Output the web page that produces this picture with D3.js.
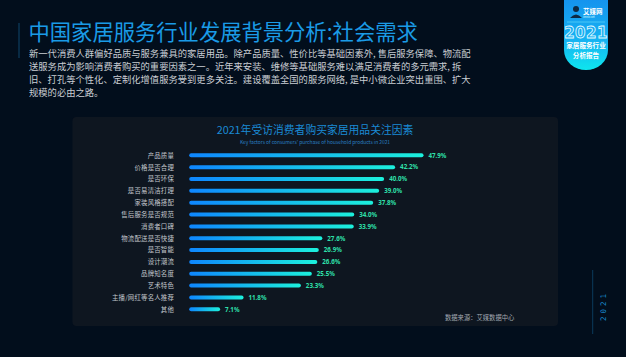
<!DOCTYPE html>
<html><head><meta charset="utf-8">
<script src="https://cdn.jsdelivr.net/npm/d3@7"></script>
<style>
html,body{margin:0;padding:0;background:#020e1c;}
svg{display:block;}
</style></head>
<body>
<svg id="c" width="626" height="357"></svg>
<script>
const categories = ["产品质量","价格是否合理","是否环保","是否易清洁打理","家装风格搭配","售后服务是否规范","消费者口碑","物流配送是否快捷","是否智能","设计潮流","品牌知名度","艺术特色","主播/网红等名人推荐","其他"];
const values = [47.9,42.2,40.0,39.0,37.8,34.0,33.9,27.6,26.9,26.6,25.5,23.3,11.8,7.1];
const valueLabels = ["47.9%","42.2%","40.0%","39.0%","37.8%","34.0%","33.9%","27.6%","26.9%","26.6%","25.5%","23.3%","11.8%","7.1%"];
const pageTitle = "中国家居服务行业发展背景分析:社会需求";
const paragraph = [
  "新一代消费人群偏好品质与服务兼具的家居用品。除产品质量、性价比等基础因素外, 售后服务保障、物流配",
  "送服务成为影响消费者购买的重要因素之一。近年来安装、维修等基础服务难以满足消费者的多元需求, 拆",
  "旧、打孔等个性化、定制化增值服务受到更多关注。建设覆盖全国的服务网络, 是中小微企业突出重围、扩大",
  "规模的必由之路。"
];
const chartTitle = "2021年受访消费者购买家居用品关注因素";
const chartSubtitle = "Key factors of consumers' purchase of household products in 2021";
const source = "数据来源：艾媒数据中心";

const FONT = "'Noto Sans CJK SC','Noto Sans',sans-serif";
const svg = d3.select("#c");
const defs = svg.append("defs");

// background
svg.append("rect").attr("width",626).attr("height",357).attr("fill","#020e1c");

// header
svg.append("line").attr("x1",19).attr("x2",19).attr("y1",23).attr("y2",58)
  .attr("stroke","#0b3452").attr("stroke-width",1.5);
svg.append("text").attr("x",28.5).attr("y",40).attr("font-family",FONT)
  .attr("font-size",21.3).attr("fill","#1a9be6").text(pageTitle);
svg.append("g").selectAll("text").data(paragraph).join("text")
  .attr("x",29).attr("y",(d,i)=>57 + i*12.9)
  .attr("font-family",FONT).attr("font-size",9.3).attr("fill","#c9cdd3")
  .text(d=>d);

// badge
const bg = defs.append("linearGradient").attr("id","badge").attr("x1",0).attr("y1",0).attr("x2",0).attr("y2",1);
bg.append("stop").attr("offset","0%").attr("stop-color","#1592ee");
bg.append("stop").attr("offset","60%").attr("stop-color","#16b4f2");
bg.append("stop").attr("offset","100%").attr("stop-color","#0ee6ee");
svg.append("path").attr("d","M564,-2 H608 V50 A22,20 0 0 1 564,50 Z").attr("fill","url(#badge)");
svg.append("circle").attr("cx",576).attr("cy",9).attr("r",3).attr("fill","#0d2a44");
svg.append("path").attr("d","M570,18 Q576,11 582,18 Z").attr("fill","#0d2a44");
svg.append("text").attr("x",583).attr("y",14).attr("font-family",FONT).attr("font-size",6.5)
  .attr("font-weight","bold").attr("fill","#fff").text("艾媒网");
svg.append("text").attr("x",583).attr("y",18).attr("font-family",FONT).attr("font-size",2)
  .attr("fill","#dff").text("iimedia.com");
svg.append("line").attr("x1",567).attr("x2",605).attr("y1",22).attr("y2",22).attr("stroke","#7fe8ff").attr("stroke-width",0.5);
svg.append("text").attr("x",586).attr("y",37.5).attr("text-anchor","middle").attr("font-family","'DejaVu Sans',sans-serif")
  .attr("font-size",15).attr("font-weight","bold").attr("fill","none").attr("stroke","#e6fbff").attr("stroke-width",0.8)
  .attr("letter-spacing",0.5).text("2021");
svg.append("text").attr("x",586).attr("y",48).attr("text-anchor","middle").attr("font-family",FONT)
  .attr("font-size",6.6).attr("font-weight","bold").attr("fill","#fff").text("家居服务行业");
svg.append("text").attr("x",586).attr("y",57.5).attr("text-anchor","middle").attr("font-family",FONT)
  .attr("font-size",6.6).attr("font-weight","bold").attr("fill","#fff").text("分析报告");

// bottom-right year
svg.append("line").attr("x1",592.7).attr("x2",592.7).attr("y1",270).attr("y2",334)
  .attr("stroke","#0b3a5c").attr("stroke-width",1);
svg.append("text").attr("transform","translate(606,306) rotate(-90)").attr("text-anchor","middle")
  .attr("font-family","'DejaVu Sans Mono',monospace").attr("font-size",7.5).attr("letter-spacing",3)
  .attr("fill","#1a8ed4").text("2021");

// panel
svg.append("rect").attr("x",72.5).attr("y",117).attr("width",485.5).attr("height",209).attr("rx",4)
  .attr("fill","#0e1620");

svg.append("text").attr("x",315).attr("y",134).attr("text-anchor","middle").attr("font-family",FONT)
  .attr("font-size",10.8).attr("fill","#1a8ad4").text(chartTitle);
svg.append("text").attr("x",315).attr("y",144).attr("text-anchor","middle").attr("font-family",FONT)
  .attr("font-size",4.9).attr("fill","#2a80c4").text(chartSubtitle);

// scales
const x = d3.scaleLinear().domain([0,50]).range([184.7,434]);
const y = d3.scalePoint().domain(categories).range([155.3,309.3]);

const gg = defs.append("linearGradient").attr("id","bar").attr("x1",0).attr("y1",0).attr("x2",1).attr("y2",0);
gg.append("stop").attr("offset","0%").attr("stop-color","#0e86ff");
gg.append("stop").attr("offset","100%").attr("stop-color","#1cf0dc");

const data = categories.map((c,i)=>({c, v:values[i], l:valueLabels[i]}));
const g = svg.append("g");
const barH = 4;
const x0 = x(0) + 4.5;
g.selectAll("rect.bar").data(data).join("rect").attr("class","bar")
  .attr("x",x0).attr("y",d=>y(d.c)-barH/2).attr("width",d=>x(d.v)-x0).attr("height",barH)
  .attr("rx",2).attr("fill","url(#bar)");
g.selectAll("text.cat").data(data).join("text").attr("class","cat")
  .attr("x",174).attr("y",d=>y(d.c)+2.4).attr("text-anchor","end")
  .attr("font-family",FONT).attr("font-size",6.4).attr("letter-spacing",0.2).attr("fill","#c2c6cc").text(d=>d.c);
g.selectAll("text.val").data(data).join("text").attr("class","val")
  .attr("x",d=>x(d.v)+5).attr("y",d=>y(d.c)+2.3)
  .attr("font-family","'Noto Sans',sans-serif").attr("font-weight","bold").attr("font-size",6.2)
  .attr("fill","#2fe0ac").text(d=>d.l);

svg.append("text").attr("x",445).attr("y",320).attr("font-family",FONT)
  .attr("font-size",6.3).attr("fill","#a2a8b0").text(source);
</script>
</body></html>
